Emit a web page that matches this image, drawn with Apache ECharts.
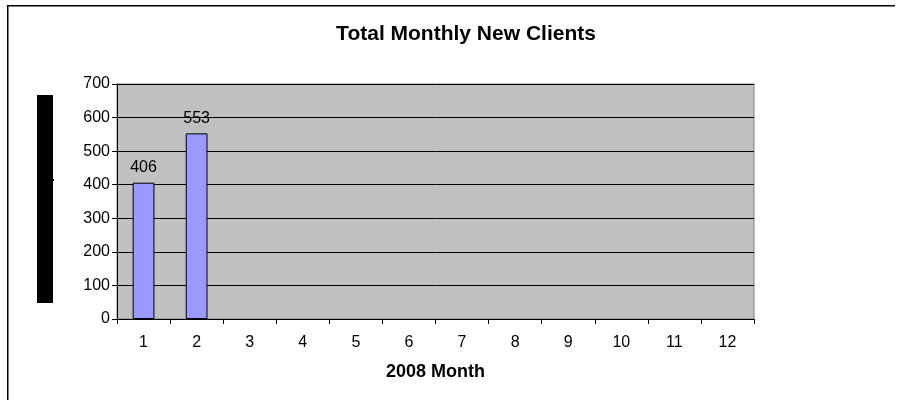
<!DOCTYPE html>
<html>
<head>
<meta charset="utf-8">
<script src="https://cdn.jsdelivr.net/npm/echarts@6/dist/echarts.min.js"></script>
<style>html,body{margin:0;padding:0;background:#fff;overflow:hidden}#c{width:901px;height:400px}</style>
</head>
<body>
<div id="c"></div>
<script>
var months = ['1','2','3','4','5','6','7','8','9','10','11','12'];
var newClients = [406, 553, null, null, null, null, null, null, null, null, null, null];
var titleText = 'Total Monthly New Clients';
var xAxisName = '2008 Month';
var yMin = 0, yMax = 700, yStep = 100;

var chart = echarts.init(document.getElementById('c'), null, {renderer: 'canvas'});
var font = '"Liberation Sans", Arial, sans-serif';
chart.setOption({
  animation: false,
  backgroundColor: '#fff',
  title: {
    text: titleText, left: 461, top: 19, textAlign: 'center',
    textStyle: {fontFamily: font, fontSize: 21, fontWeight: 'bold', color: '#000'}
  },
  grid: {left: 117, top: 84, right: 147, bottom: 81, show: true, backgroundColor: '#C0C0C0', borderColor: '#808080', borderWidth: 1},
  xAxis: {
    type: 'category', data: months,
    name: xAxisName, nameLocation: 'middle', nameGap: 44,
    nameTextStyle: {fontFamily: font, fontSize: 18, fontWeight: 'bold', color: '#000'},
    axisLine: {lineStyle: {color: '#000', width: 1}},
    axisTick: {show: true, length: 5, lineStyle: {color: '#000'}},
    axisLabel: {fontFamily: font, fontSize: 16, color: '#000', margin: 16}
  },
  yAxis: {
    type: 'value', min: yMin, max: yMax, interval: yStep,
    axisLine: {show: true, lineStyle: {color: '#000', width: 1}},
    axisTick: {show: true, length: 5, lineStyle: {color: '#000'}},
    axisLabel: {fontFamily: font, fontSize: 16, color: '#000', margin: 7},
    splitLine: {lineStyle: {color: '#000', width: 1}}
  },
  series: [{
    type: 'bar', data: newClients, barWidth: '41%',
    itemStyle: {color: '#9999FF', borderColor: '#000', borderWidth: 1},
    label: {show: true, position: 'top', distance: 7, fontFamily: font, fontSize: 16, color: '#000'}
  }],
  graphic: [
    {type: 'rect', shape: {x: 7, y: 5, width: 888, height: 1.5}, style: {fill: '#000'}, silent: true},
    {type: 'rect', shape: {x: 7, y: 5, width: 1.5, height: 395}, style: {fill: '#000'}, silent: true},
    {type: 'rect', shape: {x: 37, y: 95, width: 16, height: 208}, style: {fill: '#000'}, silent: true},
    {type: 'rect', shape: {x: 53, y: 179, width: 1, height: 2}, style: {fill: '#000'}, silent: true}
  ]
});
</script>
</body>
</html>
